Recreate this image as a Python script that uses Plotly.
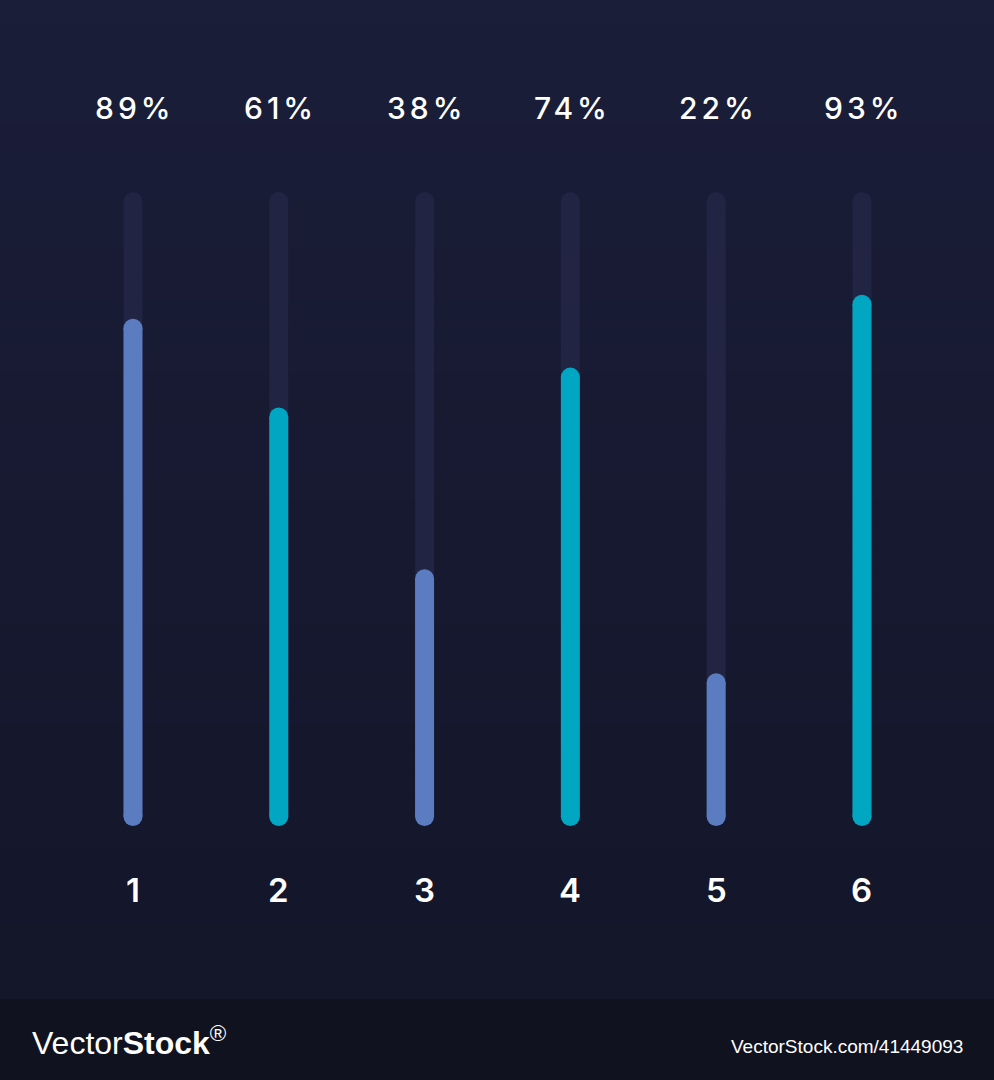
import plotly.graph_objects as go

# data
categories = [1, 2, 3, 4, 5, 6]
labels = ["89%", "61%", "38%", "74%", "22%", "93%"]
levels = [80.0, 66.0, 40.5, 72.3, 24.1, 83.8]   # filled share of the track
track_max = 100
colors = ["#5b7cc1", "#00a6c2", "#5b7cc1", "#00a6c2", "#5b7cc1", "#00a6c2"]

W, H = 994, 1080
px_per_unit = 6.34
cap = 9.5 / px_per_unit          # half bar width in y units (round ends)
y_top = 826 / px_per_unit
y_range = [y_top - H / px_per_unit, y_top]
x_range = [0.088, 0.088 + W / 145.8]

fig = go.Figure()

# gradient background
top_c = (27, 30, 57)
bot_c = (20, 22, 42)
n = 40
for i in range(n):
    t = i / (n - 1)
    c = tuple(int(top_c[k] + (bot_c[k] - top_c[k]) * t) for k in range(3))
    fig.add_shape(type="rect", xref="paper", yref="paper",
                  x0=0, x1=1, y0=1 - (i + 1) / n * 0.925, y1=1 - i / n * 0.925,
                  fillcolor="rgb(%d,%d,%d)" % c, line_width=0, layer="below")
fig.add_shape(type="rect", xref="paper", yref="paper", x0=0, x1=1, y0=0, y1=0.075,
              fillcolor="#11121f", line_width=0, layer="below")

# tracks
for x in categories:
    fig.add_trace(go.Scatter(
        x=[x, x], y=[cap, track_max - cap], mode="lines+markers",
        line=dict(color="#212443", width=19),
        marker=dict(size=19, color="#212443", line_width=0),
        hoverinfo="skip", showlegend=False
    ))

# filled bars
for x, v, c in zip(categories, levels, colors):
    fig.add_trace(go.Scatter(
        x=[x, x], y=[cap, v - cap], mode="lines+markers",
        line=dict(color=c, width=19),
        marker=dict(size=19, color=c, line_width=0),
        hoverinfo="skip", showlegend=False
    ))

# percentage labels and category numbers
for x, t in zip(categories, labels):
    fig.add_annotation(x=x, y=1 - 108 / H, xref="x", yref="paper", xshift=2,
                       text="<span style='letter-spacing:4px'>%s</span>" % t,
                       showarrow=False, yanchor="middle",
                       font=dict(family="Inter", size=30, color="white", weight=500))
    fig.add_annotation(x=x, y=1 - 890 / H, xref="x", yref="paper", text=str(x),
                       showarrow=False, yanchor="middle",
                       font=dict(family="Inter", size=33, color="white", weight=600))

# watermark
fig.add_annotation(x=30 / W, y=1 - 1041 / H, xref="paper", yref="paper",
                   text="Vector<b>Stock</b><sup>®</sup>", showarrow=False,
                   xanchor="left", yanchor="middle",
                   font=dict(family="Liberation Sans Narrow, Liberation Sans", size=32, color="white"))
fig.add_annotation(x=965 / W, y=1 - 1046 / H, xref="paper", yref="paper",
                   text="VectorStock.com/41449093", showarrow=False,
                   xanchor="right", yanchor="middle",
                   font=dict(family="Liberation Sans Narrow, Liberation Sans", size=19, color="white"))

fig.update_layout(
    width=W, height=H,
    margin=dict(l=0, r=0, t=0, b=0),
    paper_bgcolor="#161830", plot_bgcolor="rgba(0,0,0,0)",
    xaxis=dict(range=x_range, visible=False, fixedrange=True),
    yaxis=dict(range=y_range, visible=False, fixedrange=True),
)

fig.write_html("out.html", config={"displayModeBar": False},
               post_script="document.body.style.margin='0';")
